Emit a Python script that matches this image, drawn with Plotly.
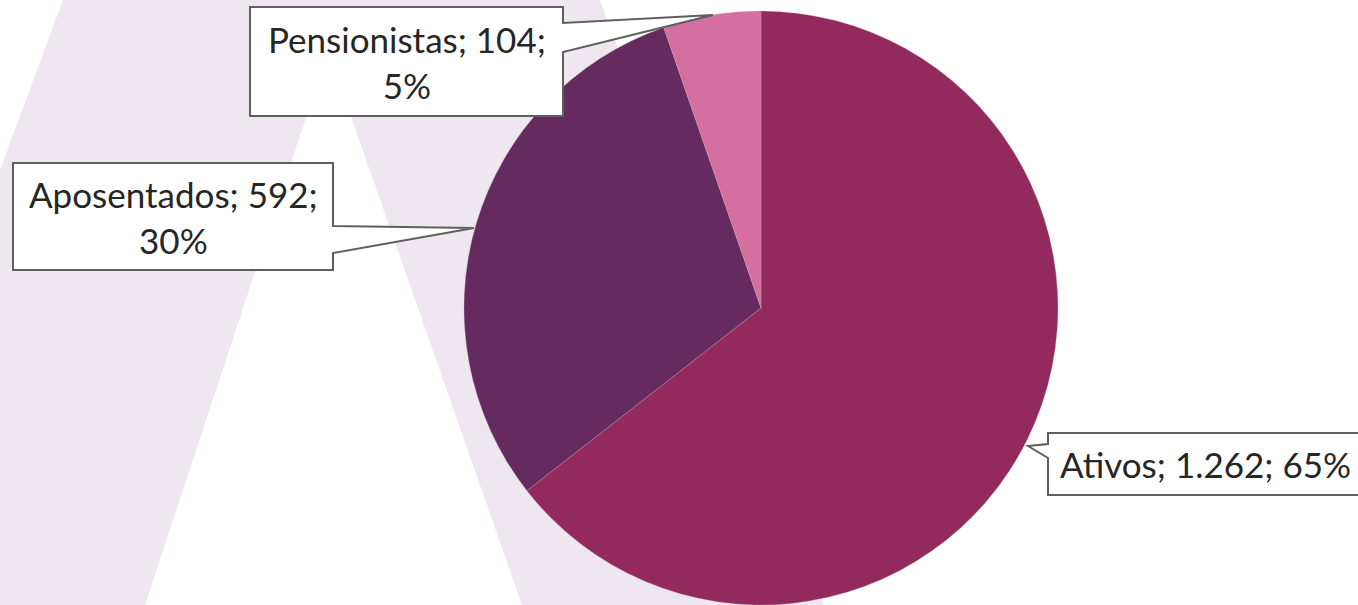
import plotly.graph_objects as go

# ---- data ----
categories = ["Ativos", "Aposentados", "Pensionistas"]
values = [1262, 592, 104]
value_labels = ["1.262", "592", "104"]
percent_labels = ["65%", "30%", "5%"]
colors = ["#922A5E", "#652A5E", "#D46FA0"]

W, H = 1358, 605


def px(x):
    return x / W


def py(y):
    return 1 - y / H


def path(points):
    s = "M " + " L ".join(f"{px(x):.5f},{py(y):.5f}" for x, y in points) + " Z"
    return s


fig = go.Figure()

fig.add_trace(go.Pie(
    labels=categories,
    values=values,
    sort=False,
    direction="clockwise",
    rotation=0,
    marker=dict(colors=colors, line=dict(color="rgba(200,170,190,0.6)", width=0.5)),
    textinfo="none",
    hoverinfo="label+value+percent",
    showlegend=False,
    domain=dict(x=[px(461), px(1061)], y=[0, py(11)]),
))

shapes = []
# light lavender "A" in the background
apex = (328, 51)
shapes.append(dict(
    type="path", xref="paper", yref="paper", layer="below",
    path=path([(63, 0), (600, 0), (824, H), (522, H), apex, (145, H), (0, H), (0, 170)]),
    fillcolor="#EEE7EF", line=dict(width=0),
))

line_style = dict(color="#5F5F5F", width=2)
# callout: Pensionistas
shapes.append(dict(
    type="path", xref="paper", yref="paper", layer="above",
    path=path([(250, 7), (563, 7), (563, 23), (713, 15), (563, 52), (563, 116), (250, 116)]),
    fillcolor="white", line=line_style,
))
# callout: Aposentados
shapes.append(dict(
    type="path", xref="paper", yref="paper", layer="above",
    path=path([(13, 163), (333, 163), (333, 226), (474, 228), (333, 253), (333, 270), (13, 270)]),
    fillcolor="white", line=line_style,
))
# callout: Ativos
shapes.append(dict(
    type="path", xref="paper", yref="paper", layer="above",
    path=path([(1048, 433), (1375, 433), (1375, 495), (1048, 495), (1048, 458), (1028, 446), (1048, 444)]),
    fillcolor="white", line=line_style,
))

font = dict(family="Lato, 'Noto Sans', sans-serif", size=35, color="#262626")
label_text = [
    f"{categories[0]}; {value_labels[0]}; {percent_labels[0]}",
    f"{categories[1]}; {value_labels[1]};<br>{percent_labels[1]}",
    f"{categories[2]}; {value_labels[2]};<br>{percent_labels[2]}",
]
annotations = [
    dict(text=label_text[2], x=px(406.5), y=py(61.5), xanchor="center", yanchor="middle"),
    dict(text=label_text[1], x=px(173), y=py(216.5), xanchor="center", yanchor="middle"),
    dict(text=label_text[0], x=px(1058), y=py(464), xanchor="left", yanchor="middle", align="left"),
]
for a in annotations:
    a.update(xref="paper", yref="paper", showarrow=False, font=font, align=a.get("align", "center"))

fig.update_layout(
    width=W, height=H,
    margin=dict(l=0, r=0, t=0, b=0),
    paper_bgcolor="white",
    plot_bgcolor="white",
    shapes=shapes,
    annotations=annotations,
)

fig.write_html(
    "out.html",
    config={"displayModeBar": False},
    post_script="document.body.style.margin='0';document.body.style.overflow='hidden';",
)
